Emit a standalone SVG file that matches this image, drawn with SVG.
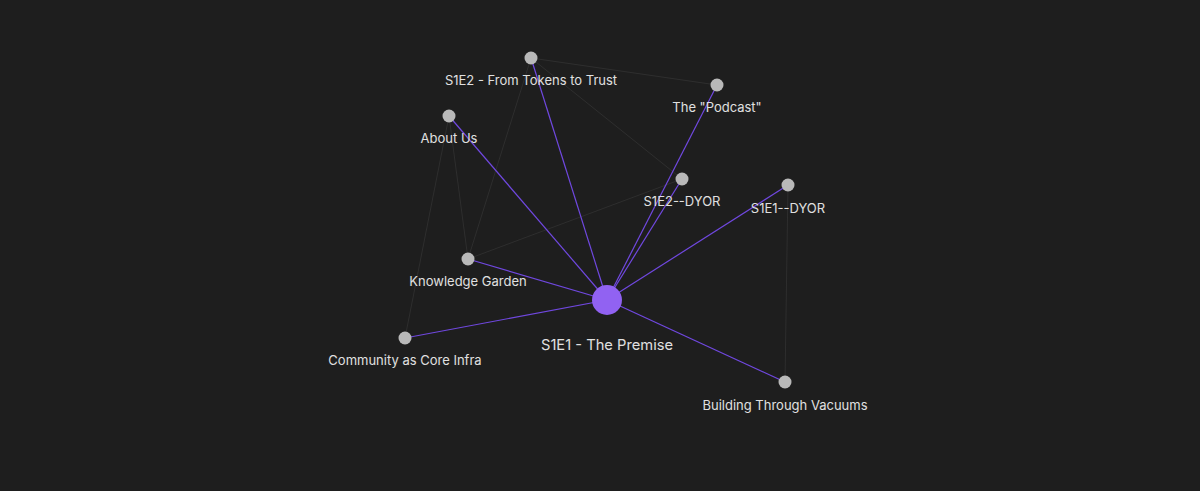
<svg xmlns="http://www.w3.org/2000/svg" width="1200" height="491" viewBox="0 0 1200 491">
<style>
.bg{fill:#1e1e1e}
.e{stroke:#2e2e2e;stroke-width:1;fill:none}
.p{stroke:#7048e0;stroke-width:1.2;fill:none}
.n{fill:#b9b9b9}
.c{fill:#9162f2}
text{font-family:Inter,"Noto Sans",sans-serif;font-size:13px;fill:#e0e0e0;text-anchor:middle}
.big{font-size:14.7px}
</style>
<rect class="bg" width="1200" height="491"/>
<g id="connectors">
<line class="e" x1="531" y1="58" x2="717" y2="85"/>
<line class="e" x1="531" y1="58" x2="682" y2="179"/>
<line class="e" x1="531" y1="58" x2="468" y2="259"/>
<line class="e" x1="449" y1="116" x2="468" y2="259"/>
<line class="e" x1="449" y1="116" x2="405" y2="338"/>
<line class="e" x1="468" y1="259" x2="682" y2="179"/>
<line class="e" x1="788" y1="185" x2="785" y2="382"/>
<line class="p" x1="607" y1="300" x2="531" y2="58"/>
<line class="p" x1="607" y1="300" x2="717" y2="85"/>
<line class="p" x1="607" y1="300" x2="449" y2="116"/>
<line class="p" x1="607" y1="300" x2="682" y2="179"/>
<line class="p" x1="607" y1="300" x2="788" y2="185"/>
<line class="p" x1="607" y1="300" x2="468" y2="259"/>
<line class="p" x1="607" y1="300" x2="405" y2="338"/>
<line class="p" x1="607" y1="300" x2="785" y2="382"/>
</g>
<g id="n-s1e2"><circle class="n" cx="531" cy="58" r="6.5"/><text x="531" y="85">S1E2 - From Tokens to Trust</text></g>
<g id="n-podcast"><circle class="n" cx="717" cy="85" r="6.5"/><text x="717" y="112">The "Podcast"</text></g>
<g id="n-about"><circle class="n" cx="449" cy="116" r="6.5"/><text x="449" y="143">About Us</text></g>
<g id="n-s1e2dyor"><circle class="n" cx="682" cy="179" r="6.5"/><text x="682" y="206">S1E2--DYOR</text></g>
<g id="n-s1e1dyor"><circle class="n" cx="788" cy="185" r="6.5"/><text x="788" y="213">S1E1--DYOR</text></g>
<g id="n-kg"><circle class="n" cx="468" cy="259" r="6.5"/><text x="468" y="286">Knowledge Garden</text></g>
<g id="n-community"><circle class="n" cx="405" cy="338" r="6.5"/><text x="405" y="365">Community as Core Infra</text></g>
<g id="n-building"><circle class="n" cx="785" cy="382" r="6.5"/><text x="785" y="410">Building Through Vacuums</text></g>
<g id="n-premise"><circle class="c" cx="607" cy="300" r="15"/><text class="big" x="607" y="350">S1E1 - The Premise</text></g>
</svg>
